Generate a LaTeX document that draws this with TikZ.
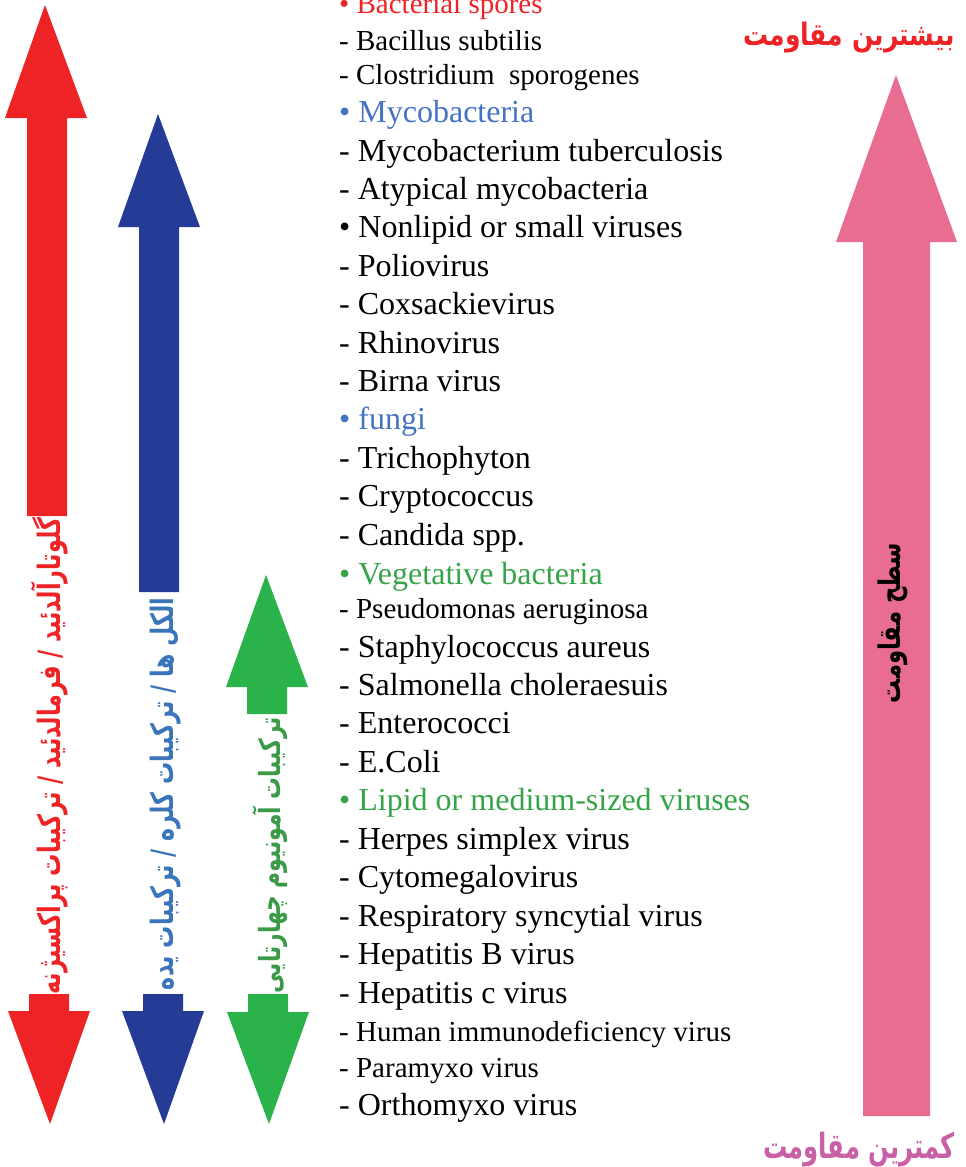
\documentclass[tikz,border=0pt]{standalone}
\usepackage{fontspec}
\usepackage{graphicx}
\setmainfont{Liberation Serif}
\newfontfamily\fa[Script=Arabic]{DejaVu Sans}
\TeXXeTstate=1
\definecolor{ared}{HTML}{EE2326}
\definecolor{ablue}{HTML}{253C96}
\definecolor{agreen}{HTML}{2AB24B}
\definecolor{apink}{HTML}{E96D91}
\definecolor{tblue}{HTML}{4472C4}
\definecolor{tgreen}{HTML}{35A448}
\definecolor{lblue}{HTML}{3A74BA}
\definecolor{lgreen}{HTML}{3A9A47}
\definecolor{tpurple}{HTML}{C95FA5}
\tikzset{
  itembig/.style={anchor=base west, inner sep=0pt, font=\fontsize{32}{38}\selectfont},
  itemsm/.style={anchor=base west, inner sep=0pt, font=\fontsize{29}{34}\selectfont},
  falbl/.style={inner sep=0pt},
}
\begin{document}
\begin{tikzpicture}[x=1pt,y=-1pt]
\useasboundingbox (0,0) rectangle (966,1167);
% block arrows
\fill[ared] (45,5) -- (87,118) -- (67,118) -- (67,516) -- (27,516) -- (27,118) -- (5,118) -- cycle;
\fill[ared] (29,994) -- (69,994) -- (69,1011) -- (90,1011) -- (50,1124) -- (8,1011) -- (29,1011) -- cycle;
\fill[ablue] (158,114) -- (200,227) -- (179,227) -- (179,592) -- (139,592) -- (139,227) -- (118,227) -- cycle;
\fill[ablue] (143,994) -- (183,994) -- (183,1011) -- (204,1011) -- (164,1124) -- (122,1011) -- (143,1011) -- cycle;
\fill[agreen] (266,575) -- (308,687) -- (287,687) -- (287,714) -- (247,714) -- (247,687) -- (226,687) -- cycle;
\fill[agreen] (248,994) -- (288,994) -- (288,1012) -- (309,1012) -- (269,1124) -- (227,1012) -- (248,1012) -- cycle;
\fill[apink] (896,75) -- (957,242) -- (930,242) -- (930,1116) -- (863,1116) -- (863,242) -- (836,242) -- cycle;
% Persian labels
\node[falbl, rotate=90, text=ared] (redlbl) at (50,756) {\resizebox*{477pt}{37pt}{\fa\bfseries\beginR گلوتارآلدئید / فرمالدئید / ترکیبات پراکسیژنه\endR}};
\node[falbl, rotate=90, text=lblue] (bluelbl) at (166,794) {\resizebox*{392pt}{31pt}{\fa\bfseries\beginR الکل ها / ترکیبات کلره / ترکیبات یده\endR}};
\node[falbl, rotate=90, text=lgreen] (greenlbl) at (270,855) {\resizebox*{276pt}{35pt}{\fa\bfseries\beginR ترکیبات آمونیوم چهارتایی\endR}};
\node[falbl, rotate=90, text=black] (pinklbl) at (893,623) {\resizebox*{160pt}{30pt}{\fa\bfseries\beginR سطح مقاومت\endR}};
\node[falbl, text=ared] (most) at (849,38) {\resizebox*{212pt}{31pt}{\fa\bfseries\beginR بیشترین مقاومت\endR}};
\node[falbl, text=tpurple] (least) at (859,1149) {\resizebox*{192pt}{35pt}{\fa\bfseries\beginR کمترین مقاومت\endR}};
% list
\node[itemsm, text=ared] (l0) at (339,13) {• Bacterial spores};
\node[itemsm] (l1) at (339,50) {- Bacillus subtilis};
\node[itemsm] (l2) at (339,84) {- Clostridium\ \ sporogenes};
\node[itembig, text=tblue] (l3) at (339,122) {• Mycobacteria};
\node[itembig] (l4) at (339,161) {- Mycobacterium tuberculosis};
\node[itembig] (l5) at (339,199) {- Atypical mycobacteria};
\node[itembig] (l6) at (339,237) {• Nonlipid or small viruses};
\node[itembig] (l7) at (339,276) {- Poliovirus};
\node[itembig] (l8) at (339,314) {- Coxsackievirus};
\node[itembig] (l9) at (339,353) {- Rhinovirus};
\node[itembig] (l10) at (339,391) {- Birna virus};
\node[itembig, text=tblue] (l11) at (339,429) {• fungi};
\node[itembig] (l12) at (339,468) {- Trichophyton};
\node[itembig] (l13) at (339,506) {- Cryptococcus};
\node[itembig] (l14) at (339,545) {- Candida spp.};
\node[itembig, text=tgreen] (l15) at (339,584) {• Vegetative bacteria};
\node[itemsm] (l16) at (339,618) {- Pseudomonas aeruginosa};
\node[itembig] (l17) at (339,657) {- Staphylococcus aureus};
\node[itembig] (l18) at (339,695) {- Salmonella choleraesuis};
\node[itembig] (l19) at (339,733) {- Enterococci};
\node[itembig] (l20) at (339,772) {- E.Coli};
\node[itembig, text=tgreen] (l21) at (339,810) {• Lipid or medium-sized viruses};
\node[itembig] (l22) at (339,849) {- Herpes simplex virus};
\node[itembig] (l23) at (339,887) {- Cytomegalovirus};
\node[itembig] (l24) at (339,926) {- Respiratory syncytial virus};
\node[itembig] (l25) at (339,964) {- Hepatitis B virus};
\node[itembig] (l26) at (339,1003) {- Hepatitis c virus};
\node[itemsm] (l27) at (339,1041) {- Human immunodeficiency virus};
\node[itemsm] (l28) at (339,1077) {- Paramyxo virus};
\node[itembig] (l29) at (339,1115) {- Orthomyxo virus};
\end{tikzpicture}
\end{document}
